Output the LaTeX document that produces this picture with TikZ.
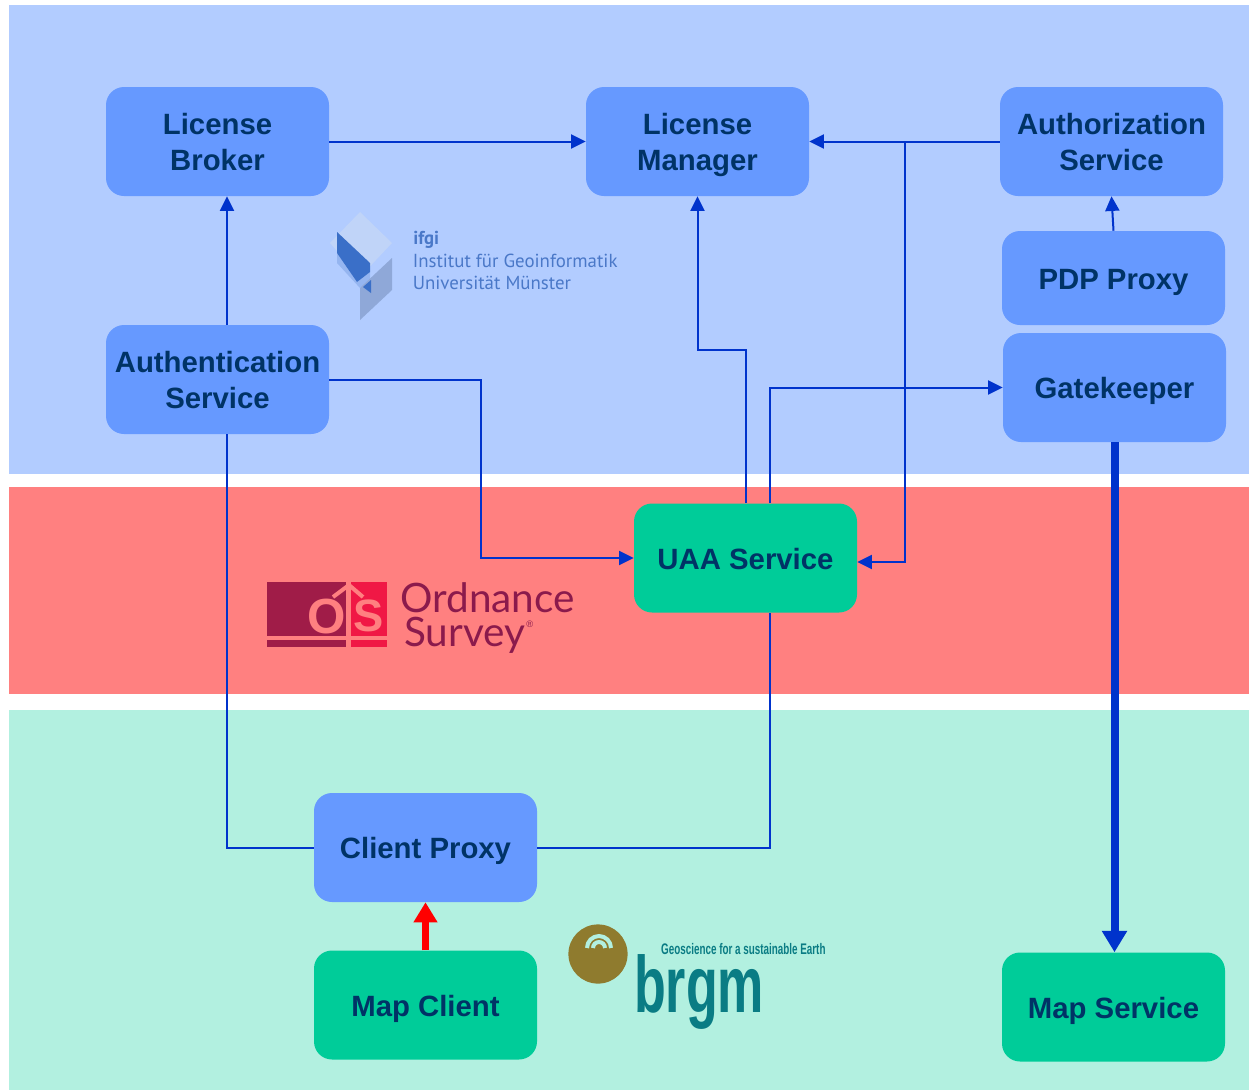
\documentclass[tikz,border=0pt]{standalone}
\usepackage{fontspec}
\setmainfont{Liberation Sans}
\newfontfamily\ifgifont{PT Sans}
\newfontfamily\osfont{Lato}
\usetikzlibrary{arrows.meta}
\definecolor{bandblue}{HTML}{B2CCFF}
\definecolor{bandred}{HTML}{FF8080}
\definecolor{bandgreen}{HTML}{B2F0E0}
\definecolor{boxblue}{HTML}{6699FF}
\definecolor{boxgreen}{HTML}{00CC99}
\definecolor{boxtext}{HTML}{003366}
\definecolor{linkblue}{HTML}{0033CC}
\definecolor{ifgitext}{HTML}{4A78C8}
\definecolor{ifgidark}{HTML}{3A6FC8}
\definecolor{ifgimid}{HTML}{95B5F0}
\definecolor{ifgilow}{HTML}{8FA8D8}
\definecolor{ifgipale}{HTML}{C0D4F8}
\definecolor{osdark}{HTML}{A01C48}
\definecolor{osred}{HTML}{F01845}
\definecolor{ostext}{HTML}{8B1A4C}
\definecolor{brgmteal}{HTML}{0A7C84}
\definecolor{brgmgold}{HTML}{8F7B2E}
\newcommand{\svstrut}{\rule[-4.8pt]{0pt}{26.8pt}}
\newcommand{\svtall}{\rule{0pt}{49pt}}
\tikzset{
  x=0.75pt,y=-0.75pt,
  band/.style={fill=#1,draw=none},
  svc/.style={rounded corners=13.5pt,minimum width=167.25pt,minimum height=81.75pt,
    inner sep=0pt,align=center,text=boxtext,font=\fontsize{22}{27}\selectfont\bfseries,
    execute at begin node=\svstrut,execute at end node=\svstrut},
  bluebox/.style={svc,fill=boxblue},
  greenbox/.style={svc,fill=boxgreen},
  twolines/.style={execute at begin node=\svtall},
  link/.style={draw=linkblue,line width=1.5pt},
  linkto/.style={link,-{Triangle[length=11pt,width=10.5pt]}},
  trunk/.style={draw=linkblue,line width=6pt,-{Triangle[length=16pt,width=18pt]}},
  redlink/.style={draw=red,line width=5pt,-{Triangle[length=15pt,width=17pt]}},
  ifgiline/.style={anchor=base west,inner sep=0pt,text=ifgitext,font=\ifgifont\fontsize{14.15}{16}\selectfont},
  osline/.style={anchor=base west,inner sep=0pt,text=ostext,font=\osfont\fontsize{30.4}{36}\selectfont},
}
\begin{document}
\begin{tikzpicture}
\useasboundingbox (0,0) rectangle (1249,1090);
\fill[white] (0,0) rectangle (1249,1090);
\path[band=bandblue] (9,5) rectangle (1249,474);
\path[band=bandred] (9,487) rectangle (1249,694);
\path[band=bandgreen] (9,710) rectangle (1249,1090);

% ifgi logo
\fill[ifgipale] (360,212) -- (392,243) -- (360,277) -- (330,243) -- cycle;
\fill[ifgimid] (337,253) -- (357,282) -- (370,272) -- (370,280) -- (360,288) -- (337,263) -- cycle;
\fill[ifgilow] (392,258) -- (392,290) -- (360,320) -- (360,288) -- cycle;
\fill[ifgidark] (337,232) -- (370,263) -- (370,272) -- (357,282) -- (337,253) -- cycle;
\fill[ifgidark] (371,280) -- (371,293) -- (363,287) -- cycle;
\node[ifgiline,font=\ifgifont\bfseries\fontsize{14}{16}\selectfont] (ifgi1) at (413,244) {ifgi};
\node[ifgiline] (ifgi2) at (412.5,267) {Institut für Geoinformatik};
\node[ifgiline] (ifgi3) at (412.5,289) {Universität Münster};

% Ordnance Survey logo
\fill[osdark] (267,582) rectangle (346,636);
\fill[osdark] (267,640) rectangle (346,647);
\fill[osred] (351,582) rectangle (387,636);
\fill[osred] (351,640) rectangle (387,647);
\draw[bandred,line width=3pt] (349,582) -- (349,647);
\draw[bandred,line width=3pt] (333,597) -- (349,585) -- (363,597);
\node[inner sep=0pt,text=bandred,font=\bfseries\fontsize{37}{37}\selectfont] (oso) at (327,617) {O};
\node[inner sep=0pt,text=bandred,font=\bfseries\fontsize{34}{34}\selectfont] (oss) at (369,616) {S};
\node[osline] (os1) at (400,612) {Ordnance};
\node[osline] (os2) at (404,646) {Survey};
\node[anchor=base west,inner sep=0pt,text=ostext,font=\fontsize{7}{7}\selectfont] (os3) at (526,627) {®};

% brgm logo
\fill[brgmgold] (598,954) circle[radius=22.2pt];
\draw[bandgreen,line width=3pt] (587,948) arc[start angle=180,end angle=0,radius=9pt];
\draw[bandgreen,line width=3pt] (593,948) arc[start angle=180,end angle=0,radius=4.5pt];
\node[anchor=base west,inner sep=0pt,text=brgmteal,xscale=0.643,font=\bfseries\fontsize{11.5}{12}\selectfont] (brgm1) at (661,954) {Geoscience for a sustainable Earth};
\node[anchor=base west,inner sep=0pt,text=brgmteal,xscale=0.65,font=\bfseries\fontsize{60}{60}\selectfont] (brgm2) at (634,1012) {brgm};

% services
\node[bluebox,twolines] (broker) at (217.5,141.5) {License\\Broker};
\node[bluebox,twolines] (manager) at (697.5,141.5) {License\\Manager};
\node[bluebox,twolines] (authz) at (1111.5,141.5) {Authorization\\Service};
\node[bluebox,minimum height=70.5pt] (pdp) at (1113.5,278) {PDP Proxy};
\node[bluebox] (gate) at (1114.5,387.5) {Gatekeeper};
\node[bluebox,twolines] (authn) at (217.5,379.5) {Authentication\\Service};
\node[greenbox] (uaa) at (745.5,558) {UAA Service};
\node[bluebox] (proxy) at (425.5,847.5) {Client Proxy};
\node[greenbox] (mapclient) at (425.5,1005) {Map Client};
\node[greenbox] (mapservice) at (1113.5,1007) {Map Service};

% connectors
\coordinate (tee) at (905,141.5);
\draw[linkto] (broker.east) -- (manager.west);
\draw[linkto] (authz.west) -- (manager.east);
\draw[linkto] (tee) -- (905,562) -- (uaa.east |- 0,562);
\draw[linkto] (authn.north -| 227,0) -- (broker.south -| 227,0);
\draw[linkto] (pdp.north) -- (authz.south);
\draw[linkto] (authn.east |- 0,380) -- (481,380) -- (481,558) -- (uaa.west);
\draw[linkto] (uaa.north) -- (745.5,350) -- (697.5,350) -- (manager.south);
\draw[linkto] (uaa.north -| 770,0) -- (770,387.5) -- (gate.west);
\draw[link] (proxy.west) -- (227,847.5) -- (authn.south -| 227,0);
\draw[link] (proxy.east) -- (770,847.5) -- (uaa.south -| 770,0);
\draw[trunk] (gate.south) -- (gate.south |- mapservice.north);
\draw[redlink] (mapclient.north) -- (proxy.south);
\end{tikzpicture}
\end{document}
